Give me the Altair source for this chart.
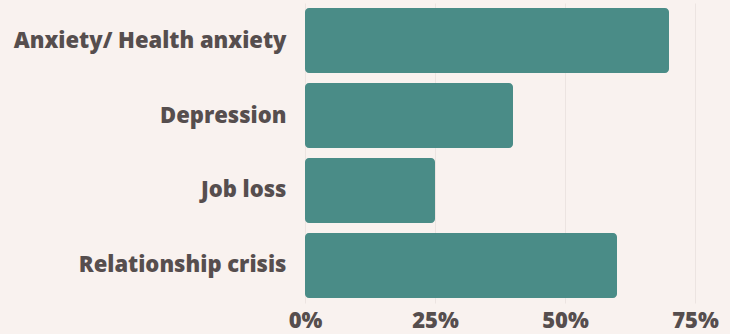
import altair as alt
import pandas as pd

categories = ["Anxiety/ Health anxiety", "Depression", "Job loss", "Relationship crisis"]
values = [70, 40, 25, 60]
x_ticks = [0, 25, 50, 75]

df = pd.DataFrame({"category": categories, "value": values})

text_color = "#564e4e"
font = "Open Sans"

chart = alt.Chart(df).mark_bar(
    color="#4a8c87", cornerRadius=4
).encode(
    x=alt.X("value:Q",
            scale=alt.Scale(domain=[0, 75], nice=False),
            axis=alt.Axis(values=x_ticks, labelExpr="datum.value + '%'",
                          title=None, domain=False, ticks=False,
                          labelFont=font, labelFontSize=22, labelFontWeight=800,
                          labelColor=text_color, labelPadding=7,
                          gridColor="#ece4e1", gridWidth=1, labelFlush=False)),
    y=alt.Y("category:N", sort=categories,
            scale=alt.Scale(paddingInner=0.1333, paddingOuter=0.0667),
            axis=alt.Axis(title=None, domain=False, ticks=False, grid=False,
                          labelFont=font, labelFontSize=22, labelFontWeight=800,
                          labelColor=text_color, labelPadding=19, labelLimit=400)),
).properties(
    width=390, height=300,
    autosize="none",
    padding={"left": 305, "top": 3, "right": 35, "bottom": 31},
    background="#f9f2ef",
).configure_view(stroke=None)

chart.save("out.html", embed_options={"renderer": "svg", "actions": False})
